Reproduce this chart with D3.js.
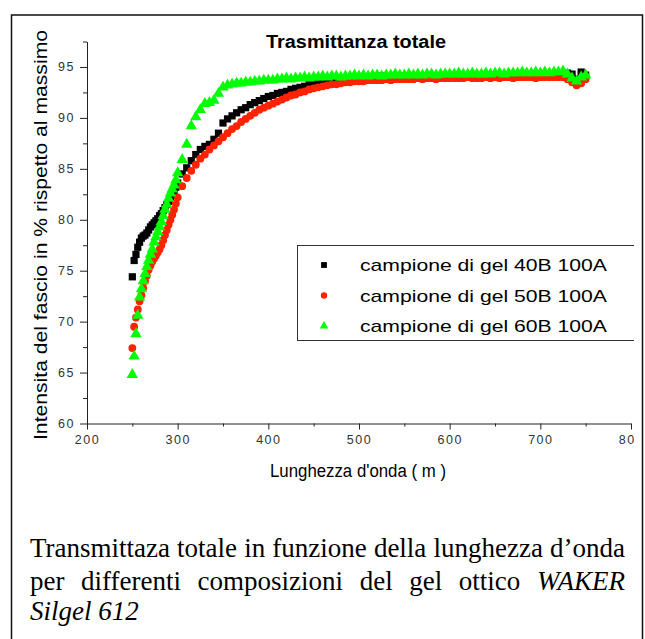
<!DOCTYPE html>
<html>
<head>
<meta charset="utf-8">
<script src="https://cdn.jsdelivr.net/npm/d3@7"></script>
<style>
  body { margin: 0; background: #fff; }
</style>
</head>
<body>
<div id="chart"></div>
<script>
// wavelengths (nm) shared by the three samples
const wavelength = [
  250, 252, 254, 256, 258, 260, 262, 264, 266, 268,
  270, 272, 274, 276, 278, 280, 282, 284, 286, 288,
  290, 292, 294, 296, 298, 300,
  305, 310, 315, 320, 325, 330, 335, 340, 345, 350,
  355, 360, 365, 370, 375, 380, 385, 390, 395, 400,
  405, 410, 415, 420, 425, 430, 435, 440, 445, 450,
  455, 460, 465, 470, 475, 480, 485, 490, 495, 500,
  505, 510, 515, 520, 525, 530, 535, 540, 545, 550,
  555, 560, 565, 570, 575, 580, 585, 590, 595, 600,
  605, 610, 615, 620, 625, 630, 635, 640, 645, 650,
  655, 660, 665, 670, 675, 680, 685, 690, 695, 700,
  705, 710, 715, 720, 725, 730, 735, 740, 745, 750
];

const gel40B = [
  74.4, 76.0, 76.6, 77.3, 77.8, 78.2, 78.4, 78.5, 78.7, 79.0,
  79.3, 79.5, 79.7, 79.9, 80.1, 80.4, 80.6, 80.9, 81.2, 81.5,
  81.8, 82.1, 82.5, 82.8, 83.2, 83.6,
  84.5, 85.1, 85.8, 86.4, 86.9, 87.2, 87.4, 87.9, 88.5, 89.5,
  89.9, 90.2, 90.5, 90.8, 91.0, 91.3, 91.5, 91.7, 91.9, 92.1,
  92.2, 92.4, 92.5, 92.6, 92.8, 92.9, 93.0, 93.1, 93.3, 93.4,
  93.5, 93.5, 93.6, 93.7, 93.7, 93.8, 93.8, 93.9, 93.9, 93.9,
  94.0, 93.9, 94.0, 94.0, 94.1, 94.0, 94.0, 94.1, 94.0, 94.1,
  94.1, 94.0, 94.1, 94.1, 94.0, 94.1, 94.1, 94.1, 94.0, 94.1,
  94.1, 94.1, 94.0, 94.1, 94.1, 94.1, 94.0, 94.1, 94.1, 94.0,
  94.1, 94.1, 94.1, 94.0, 94.1, 94.1, 94.1, 94.1, 94.0, 94.1,
  94.1, 94.1, 94.2, 94.1, 94.2, 94.4, 94.3, 93.8, 94.5, 94.2
];

const gel50B = [
  67.4, 69.5, 70.4, 71.2, 72.0, 72.6, 73.3, 74.0, 74.5, 75.1,
  75.5, 75.9, 76.2, 76.5, 76.8, 77.1, 77.5, 78.0, 78.5, 79.0,
  79.5, 80.0, 80.5, 81.0, 81.6, 82.2,
  83.3, 84.1, 84.8, 85.4, 86.0, 86.4, 86.9, 87.3, 87.7, 88.1,
  88.5, 88.9, 89.2, 89.6, 89.9, 90.2, 90.5, 90.8, 91.0, 91.2,
  91.4, 91.6, 91.8, 92.0, 92.2, 92.3, 92.5, 92.6, 92.8, 92.9,
  93.0, 93.1, 93.2, 93.3, 93.3, 93.4, 93.5, 93.5, 93.6, 93.6,
  93.6, 93.7, 93.7, 93.7, 93.7, 93.8, 93.7, 93.8, 93.8, 93.8,
  93.8, 93.8, 93.9, 93.8, 93.9, 93.9, 93.8, 93.9, 93.9, 93.9,
  93.9, 93.9, 93.9, 94.0, 93.9, 93.9, 93.9, 94.0, 93.9, 94.0,
  93.9, 94.0, 94.0, 93.9, 94.0, 94.0, 94.0, 94.0, 93.9, 94.0,
  94.0, 94.0, 94.0, 94.0, 94.0, 93.8, 93.5, 93.2, 93.4, 93.8
];

const gel60B = [
  64.8, 66.6, 68.8, 70.6, 72.4, 73.2, 74.0, 74.7, 75.4, 76.0,
  76.6, 77.1, 77.8, 78.3, 78.8, 79.3, 79.8, 80.4, 81.0, 81.5,
  82.1, 82.6, 83.0, 83.4, 83.9, 84.6,
  85.9, 87.4, 89.2, 90.1, 90.8, 91.4, 91.5, 91.7, 92.4, 93.0,
  93.2, 93.3, 93.4, 93.4, 93.5, 93.5, 93.6, 93.6, 93.7, 93.7,
  93.7, 93.8, 93.8, 93.9, 93.8, 93.9, 93.9, 94.0, 93.9, 94.0,
  94.0, 94.1, 94.0, 94.1, 94.1, 94.0, 94.1, 94.1, 94.2, 94.1,
  94.2, 94.1, 94.2, 94.2, 94.1, 94.2, 94.2, 94.3, 94.2, 94.2,
  94.3, 94.2, 94.3, 94.2, 94.3, 94.3, 94.2, 94.3, 94.3, 94.3,
  94.3, 94.4, 94.3, 94.3, 94.4, 94.3, 94.3, 94.4, 94.3, 94.4,
  94.4, 94.3, 94.4, 94.4, 94.4, 94.5, 94.4, 94.4, 94.5, 94.4,
  94.5, 94.4, 94.5, 94.5, 94.6, 94.3, 93.9, 93.6, 94.0, 94.2
];

const seriesNames = [
  "campione di gel 40B 100A",
  "campione di gel 50B 100A",
  "campione di gel 60B 100A"
];
const xTicks = [200, 300, 400, 500, 600, 700, 800];
const xMinorTicks = [250, 350, 450, 550, 650, 750];
const yTicks = [60, 65, 70, 75, 80, 85, 90, 95];
const yMinorTicks = [62.5, 67.5, 72.5, 77.5, 82.5, 87.5, 92.5, 97.5];

const width = 645, height = 639;
const sans = "'Liberation Sans', Arial, sans-serif";
const serif = "'Liberation Serif', 'Times New Roman', serif";

const svg = d3.select("#chart")
  .append("svg")
  .attr("width", width)
  .attr("height", height)
  .attr("viewBox", `0 0 ${width} ${height}`);

// page frame around figure + caption
svg.append("rect")
  .attr("x", 11.5).attr("y", 15)
  .attr("width", 631).attr("height", 700)
  .attr("fill", "none")
  .attr("stroke", "#111")
  .attr("stroke-width", 1.5);

// the plot picture is cut just right of the 800 tick
svg.append("clipPath").attr("id", "figclip")
  .append("rect").attr("x", 0).attr("y", 0).attr("width", 634).attr("height", 500);

const fig = svg.append("g").attr("clip-path", "url(#figclip)");

const x = d3.scaleLinear().domain([200, 800]).range([87, 631]);
const y = d3.scaleLinear().domain([60, 97.5]).range([423.5, 41.5]);

// axes
const xAxis = fig.append("g")
  .attr("transform", `translate(0,${y(60)})`)
  .call(d3.axisBottom(x).tickValues(xTicks).tickSize(6).tickSizeOuter(0).tickPadding(6));
fig.append("g")
  .attr("transform", `translate(0,${y(60)})`)
  .call(d3.axisBottom(x).tickValues(xMinorTicks).tickSize(3).tickSizeOuter(0).tickFormat(""))
  .select(".domain").remove();

const yAxis = fig.append("g")
  .attr("transform", `translate(${x(200)},0)`)
  .call(d3.axisLeft(y).tickValues(yTicks).tickSize(7).tickSizeOuter(0).tickPadding(5));
fig.append("g")
  .attr("transform", `translate(${x(200)},0)`)
  .call(d3.axisLeft(y).tickValues(yMinorTicks).tickSize(4).tickSizeOuter(0).tickFormat(""))
  .select(".domain").remove();

fig.selectAll(".tick line, .domain").attr("stroke", "#222").attr("stroke-width", 1);
[xAxis, yAxis].forEach(a => a.selectAll("text")
  .attr("font-family", sans)
  .attr("font-size", 12.5)
  .attr("letter-spacing", 1.5)
  .attr("fill", "#333"));

// title and axis labels
fig.append("text")
  .attr("x", 356).attr("y", 48)
  .attr("text-anchor", "middle")
  .attr("font-family", sans).attr("font-size", 18).attr("font-weight", "bold")
  .attr("textLength", 180).attr("lengthAdjust", "spacingAndGlyphs")
  .text("Trasmittanza totale");

fig.append("text")
  .attr("x", 358).attr("y", 477)
  .attr("text-anchor", "middle")
  .attr("font-family", sans).attr("font-size", 18)
  .attr("textLength", 176).attr("lengthAdjust", "spacingAndGlyphs")
  .text("Lunghezza d'onda ( m )");

fig.append("text")
  .attr("transform", `translate(47,235) rotate(-90)`)
  .attr("text-anchor", "middle")
  .attr("font-family", sans).attr("font-size", 18)
  .attr("textLength", 410).attr("lengthAdjust", "spacingAndGlyphs")
  .text("Intensita del fascio in % rispetto al massimo");

// data points
const series = [
  { name: seriesNames[0], values: gel40B, color: "#000000", symbol: d3.symbolSquare, size: 52 },
  { name: seriesNames[1], values: gel50B, color: "#ff2200", symbol: d3.symbolCircle, size: 48 },
  { name: seriesNames[2], values: gel60B, color: "#00ff00", symbol: d3.symbolTriangle, size: 56 }
];

series.forEach(s => {
  fig.append("g")
    .selectAll("path")
    .data(wavelength.map((w, i) => [w, s.values[i]]))
    .join("path")
    .attr("transform", d => `translate(${x(d[0])},${y(d[1])})`)
    .attr("d", d3.symbol(s.symbol, s.size))
    .attr("fill", s.color);
});

// legend
const legend = fig.append("g");
legend.append("rect")
  .attr("x", 297.5).attr("y", 245.5)
  .attr("width", 400).attr("height", 95)
  .attr("fill", "#fff")
  .attr("stroke", "#333");

series.forEach((s, i) => {
  const ly = 265 + i * 30.5;
  legend.append("path")
    .attr("transform", `translate(324,${ly})`)
    .attr("d", d3.symbol(s.symbol, i === 0 ? 34 : 32))
    .attr("fill", s.color);
  legend.append("text")
    .attr("x", 360).attr("y", ly + 6)
    .attr("font-family", sans).attr("font-size", 17)
    .attr("textLength", 247).attr("lengthAdjust", "spacingAndGlyphs")
    .text(s.name);
});

// caption, justified like the source document
const caption = [
  { y: 557, justify: true, words: [["Transmittaza"], ["totale"], ["in"], ["funzione"], ["della"], ["lunghezza"], ["d\u2019onda"]] },
  { y: 590, justify: true, words: [["per"], ["differenti"], ["composizioni"], ["del"], ["gel"], ["ottico"], ["WAKER", "italic"]] },
  { y: 620, justify: false, words: [["Silgel 612", "italic"]] }
];
const capLeft = 30, capRight = 625;

caption.forEach(line => {
  const nodes = line.words.map(([w, style]) => svg.append("text")
    .attr("y", line.y)
    .attr("font-family", serif)
    .attr("font-size", 27)
    .attr("font-style", style || "normal")
    .attr("fill", "#000")
    .text(w));
  const widths = nodes.map(n => n.node().getComputedTextLength());
  const total = d3.sum(widths);
  const gap = line.justify && nodes.length > 1
    ? (capRight - capLeft - total) / (nodes.length - 1)
    : 6;
  let cx = capLeft;
  nodes.forEach((n, i) => {
    n.attr("x", cx);
    cx += widths[i] + gap;
  });
});
</script>
</body>
</html>
